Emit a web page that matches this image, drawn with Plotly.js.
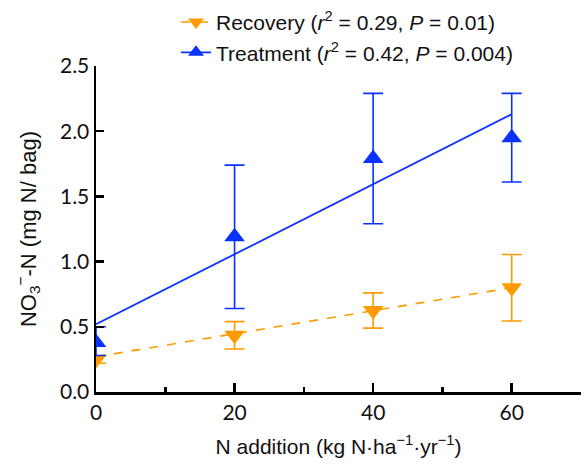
<!DOCTYPE html>
<html>
<head>
<meta charset="utf-8">
<script src="https://cdn.plot.ly/plotly-3.0.1.min.js"></script>
<style>html,body{margin:0;padding:0;background:#fff;}#chart{width:584px;height:468px;}</style>
</head>
<body>
<div id="chart"></div>
<script>
const nAddition = [0, 20, 40, 60];
const recoveryMean = [0.25, 0.435, 0.625, 0.80];
const recoveryErr = [0.03, 0.105, 0.135, 0.255];
const treatmentMean = [0.38, 1.19, 1.79, 1.95];
const treatmentErrPlus = [0.12, 0.55, 0.50, 0.34];
const treatmentErrMinus = [0.10, 0.55, 0.50, 0.34];
const fitX = [0, 60];
const recoveryFit = [0.27, 0.80];
const treatmentFit = [0.52, 2.13];
const recoveryLabel = 'Recovery (<i>r</i><sup>2</sup> = 0.29, <i>P</i> = 0.01)';
const treatmentLabel = 'Treatment (<i>r</i><sup>2</sup> = 0.42, <i>P</i> = 0.004)';

const orange = '#ff9a00';
const blue = '#0a32ff';

const traces = [
  {x: fitX, y: recoveryFit, mode: 'lines', line: {color: orange, width: 1.6, dash: 'dash'}, showlegend: false, hoverinfo: 'skip'},
  {x: fitX, y: treatmentFit, mode: 'lines', line: {color: blue, width: 1.8}, showlegend: false, hoverinfo: 'skip'},
  {x: nAddition, y: recoveryMean, mode: 'markers', showlegend: false,
   marker: {symbol: 'triangle-down', size: 18, color: orange},
   error_y: {type: 'data', array: recoveryErr, color: orange, thickness: 1.6, width: 10}},
  {x: nAddition, y: treatmentMean, mode: 'markers', showlegend: false,
   marker: {symbol: 'triangle-up', size: 18, color: blue},
   error_y: {type: 'data', array: treatmentErrPlus, arrayminus: treatmentErrMinus, color: blue, thickness: 1.6, width: 10}},
  {x: [null], y: [null], mode: 'lines+markers', name: recoveryLabel,
   line: {color: orange, width: 1.6, dash: 'dash'}, marker: {symbol: 'triangle-down', size: 14, color: orange}},
  {x: [null], y: [null], mode: 'lines+markers', name: treatmentLabel,
   line: {color: blue, width: 1.8}, marker: {symbol: 'triangle-up', size: 14, color: blue}}
];

const layout = {
  width: 584, height: 468,
  margin: {l: 96, r: 3, t: 66, b: 76, autoexpand: false},
  paper_bgcolor: '#fff', plot_bgcolor: '#fff',
  font: {family: 'Liberation Sans, Arial, sans-serif', color: '#111', size: 17},
  showlegend: true,
  legend: {x: 0.165, xanchor: 'left', yref: 'container', y: 0.996, yanchor: 'top', bgcolor: 'rgba(0,0,0,0)',
           font: {size: 21, family: 'Liberation Sans, Arial, sans-serif'}, tracegroupgap: 0, itemwidth: 30},
  xaxis: {
    range: [0, 70], tickvals: [0, 20, 40, 60], ticktext: ['0', '20', '40', '60'],
    showgrid: false, zeroline: false, showline: true, linecolor: '#000', linewidth: 2.5,
    ticks: 'inside', ticklen: 9, tickwidth: 2.5, tickcolor: '#000',
    minor: {tickvals: [10, 30, 50], ticks: 'inside', ticklen: 5, tickwidth: 2.5, tickcolor: '#000', showgrid: false},
    tickfont: {family: 'Lato, sans-serif', size: 21, color: '#111'},
    title: {text: 'N addition (kg N·ha<sup>−1</sup>·yr<sup>−1</sup>)', font: {size: 21}, standoff: 17}
  },
  yaxis: {
    range: [0, 2.5], tickvals: [0, 0.5, 1.0, 1.5, 2.0, 2.5], ticktext: ['0.0', '0.5', '1.0', '1.5', '2.0', '2.5'],
    showgrid: false, zeroline: false, showline: true, linecolor: '#000', linewidth: 2.5,
    ticks: 'inside', ticklen: 8, tickwidth: 2.5, tickcolor: '#000',
    tickfont: {family: 'Lato, sans-serif', size: 21, color: '#111'},
    title: {text: 'NO<sub>3</sub><sup>−</sup>-N (mg N/ bag)', font: {size: 22}, standoff: 18}
  }
};

Plotly.newPlot('chart', traces, layout, {displayModeBar: false, staticPlot: true});
</script>
</body>
</html>
